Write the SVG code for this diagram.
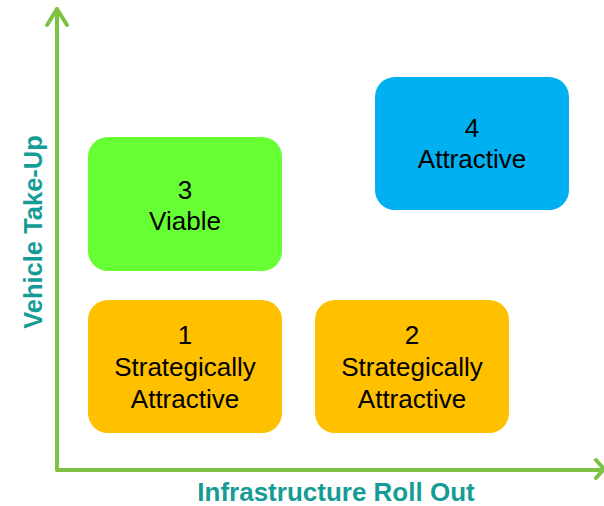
<svg xmlns="http://www.w3.org/2000/svg" width="604" height="506" viewBox="0 0 604 506">
<style>
.box text{font-family:"Liberation Sans",Arial,sans-serif;font-size:26px;fill:#000;text-anchor:middle}
.ax{stroke:#7DC242;stroke-width:4;fill:none;stroke-linecap:round;stroke-linejoin:round}
.lbl{font-family:"Liberation Sans",Arial,sans-serif;font-weight:bold;fill:#169C96;text-anchor:middle}
</style>
<rect width="604" height="506" fill="#fff"/>
<g id="connectors">
<path class="ax" d="M57,470 V9 M57,470 H602"/>
<path class="ax" d="M47,25 L57,9 L67,25"/>
<path class="ax" d="M596,460 L604,469 L596,478"/>
</g>
<g id="node3" class="box"><rect x="88" y="137" width="194" height="134" rx="20" fill="#66FF33"/><text x="185" y="199">3</text><text x="185" y="230">Viable</text></g>
<g id="node4" class="box"><rect x="375" y="77" width="194" height="133" rx="20" fill="#00B0F0"/><text x="472" y="137">4</text><text x="472" y="168">Attractive</text></g>
<g id="node1" class="box"><rect x="88" y="300" width="194" height="133" rx="20" fill="#FFC000"/><text x="185" y="344">1</text><text x="185" y="376">Strategically</text><text x="185" y="408">Attractive</text></g>
<g id="node2" class="box"><rect x="315" y="300" width="194" height="133" rx="20" fill="#FFC000"/><text x="412" y="344">2</text><text x="412" y="376">Strategically</text><text x="412" y="408">Attractive</text></g>
<g id="labels">
<text class="lbl" x="336" y="501" font-size="26">Infrastructure Roll Out</text>
<text class="lbl" font-size="25.5" transform="translate(42,232) rotate(-90)">Vehicle Take-Up</text>
</g>
</svg>
